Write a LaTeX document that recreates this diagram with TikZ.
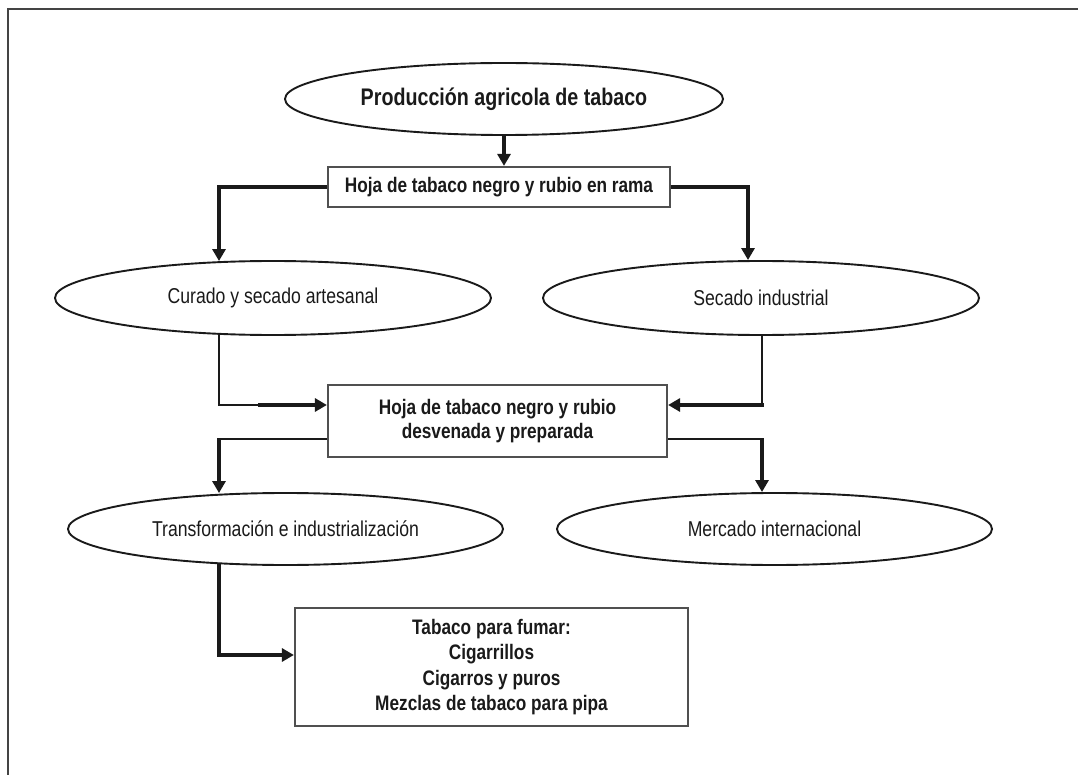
\documentclass[tikz,border=0pt]{standalone}
\usepackage{fontspec}
\setmainfont{Liberation Sans}[FakeStretch=0.82]
\usetikzlibrary{shapes.geometric,arrows.meta}
\definecolor{ink}{HTML}{1A1A1A}
\definecolor{boxline}{HTML}{505050}
\definecolor{frameline}{HTML}{444444}
\tikzset{
  oval/.style={draw=ink, line width=1.9pt, ellipse, inner sep=0pt, text=ink, font=\fontsize{21.5}{25}\selectfont},
  boxnode/.style={draw=boxline, line width=2.2pt, rectangle, inner sep=0pt, align=center, text=ink, font=\bfseries\fontsize{21}{25}\selectfont},
  thickarrow/.style={draw=ink, line width=3.6pt, -{Triangle[length=12pt,width=13pt]}},
  thinline/.style={draw=ink, line width=1.8pt},
  frameline/.style={draw=frameline, line width=2.6pt}
}
\begin{document}
\begin{tikzpicture}[x=1pt,y=-1pt]
\useasboundingbox (0,0) rectangle (1078,775);
\fill[white] (0,0) rectangle (1078,775);
\draw[frameline] (8,775) -- (8,9) -- (1078,9);

\node[oval, minimum width=438pt, minimum height=72pt, font=\bfseries\fontsize{24}{28}\selectfont] (e1) at (504,99) {Producción agricola de tabaco};
\node[boxnode, minimum width=342pt, minimum height=40pt] (b1) at (499,187) {Hoja de tabaco negro y rubio en rama};
\node[oval, minimum width=436pt, minimum height=74pt] (e2) at (273,298) {Curado y secado artesanal};
\node[oval, minimum width=436pt, minimum height=74pt] (e3) at (761,298) {Secado industrial};
\node[boxnode, minimum width=339pt, minimum height=72pt, font=\bfseries\fontsize{21}{23.5}\selectfont] (b2) at (497.5,421) {Hoja de tabaco negro y rubio\\desvenada y preparada};
\node[oval, minimum width=435pt, minimum height=72pt] (e4) at (285.5,529) {Transformación e industrialización};
\node[oval, minimum width=435pt, minimum height=72pt] (e5) at (774.5,529) {Mercado internacional};
\node[boxnode, minimum width=393pt, minimum height=118pt, font=\bfseries\fontsize{21}{25.5}\selectfont] (b3) at (491.5,667) {Tabaco para fumar:\\Cigarrillos\\Cigarros y puros\\Mezclas de tabaco para pipa};

\coordinate (L) at (219,0);
\coordinate (R1) at (748,0);
\coordinate (R2) at (762,0);
\coordinate (LA) at (258,0);

% top
\draw[thickarrow] (e1.south) -- (e1.south |- b1.north);
\draw[thickarrow] (b1.west) -| ([yshift=-1pt]L |- e2.north);
\draw[thickarrow] (b1.east) -| (R1 |- e3.north);

% into box 2
\coordinate (in2) at ([yshift=16pt]b2.west);
\coordinate (in2r) at ([yshift=16pt]b2.east);
\draw[thinline] ([yshift=1pt]L |- e2.south) |- (LA |- in2);
\draw[thickarrow] (LA |- in2) -- (in2);
\draw[thinline] (R2 |- e3.south) -- (R2 |- in2r);
\draw[thickarrow] ([xshift=1.8pt]R2 |- in2r) -- (in2r);

% out of box 2
\coordinate (out2) at ([yshift=-18pt]b2.west);
\coordinate (out2r) at ([yshift=-18pt]b2.east);
\draw[thinline] (out2) -- ([xshift=-1.8pt]L |- out2);
\draw[thickarrow] ([yshift=0.9pt]L |- out2) -- ([yshift=-1pt]L |- e4.north);
\draw[thinline] (out2r) -- ([xshift=1.8pt]R2 |- out2r);
\draw[thickarrow] ([yshift=0.9pt]R2 |- out2r) -- (R2 |- e4.north);

% into box 3
\coordinate (in3) at ([yshift=12pt]b3.west);
\draw[thickarrow] ([yshift=2pt]L |- e4.south) |- (in3);
\end{tikzpicture}
\end{document}
